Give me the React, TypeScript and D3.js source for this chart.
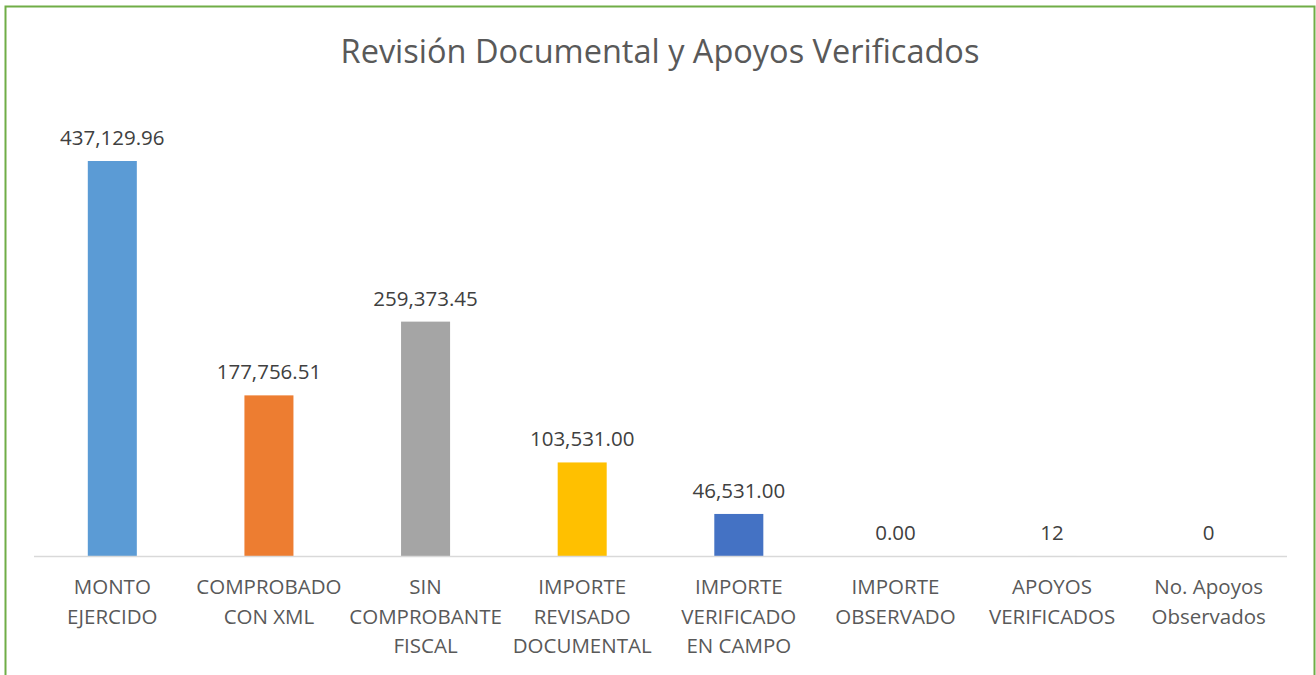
import React, { useEffect, useRef } from 'react';
import * as d3 from 'd3';

const categories = [
  ['MONTO', 'EJERCIDO'],
  ['COMPROBADO', 'CON XML'],
  ['SIN', 'COMPROBANTE', 'FISCAL'],
  ['IMPORTE', 'REVISADO', 'DOCUMENTAL'],
  ['IMPORTE', 'VERIFICADO', 'EN CAMPO'],
  ['IMPORTE', 'OBSERVADO'],
  ['APOYOS', 'VERIFICADOS'],
  ['No. Apoyos', 'Observados'],
];
const values = [437129.96, 177756.51, 259373.45, 103531.0, 46531.0, 0, 12, 0];
const valueLabels = ['437,129.96', '177,756.51', '259,373.45', '103,531.00', '46,531.00', '0.00', '12', '0'];
const barColors = ['#5B9BD5', '#ED7D31', '#A5A5A5', '#FFC000', '#4472C4', '#70AD47', '#255E91', '#9E480E'];

const W = 1316;
const H = 675;
const FONT = "'Open Sans', sans-serif";

export default function App() {
  const ref = useRef<SVGSVGElement>(null);

  useEffect(() => {
    const svg = d3.select(ref.current);
    svg.selectAll('*').remove();

    // chart border (bottom is cut off in the picture)
    svg.append('path')
      .attr('d', `M5.5,${H} V6.5 H1314.5 V${H}`)
      .attr('fill', 'none')
      .attr('stroke', '#70AD47')
      .attr('stroke-width', 2);

    svg.append('text')
      .attr('x', 660)
      .attr('y', 63)
      .attr('text-anchor', 'middle')
      .attr('font-family', FONT)
      .attr('font-size', 32.5)
      .attr('fill', '#595959')
      .text('Revisión Documental y Apoyos Verificados');

    const x = d3.scaleBand<number>()
      .domain(d3.range(categories.length))
      .range([34, 1287])
      .paddingInner(0.687)
      .paddingOuter(0.3435);

    const y = d3.scaleLinear()
      .domain([0, 437129.96])
      .range([556, 161]);

    svg.append('g')
      .selectAll('rect')
      .data(values)
      .join('rect')
        .attr('x', (d, i) => x(i)!)
        .attr('width', x.bandwidth())
        .attr('y', d => y(d))
        .attr('height', d => y(0) - y(d))
        .attr('fill', (d, i) => barColors[i]);

    svg.append('line')
      .attr('x1', 34).attr('x2', 1287)
      .attr('y1', 556.5).attr('y2', 556.5)
      .attr('stroke', '#D9D9D9')
      .attr('stroke-width', 1.5);

    svg.append('g')
      .attr('font-family', FONT)
      .attr('font-size', 20.5)
      .attr('fill', '#404040')
      .attr('text-anchor', 'middle')
    .selectAll('text')
    .data(values)
    .join('text')
      .attr('x', (d, i) => x(i)! + x.bandwidth() / 2)
      .attr('y', d => y(d) - 16)
      .text((d, i) => valueLabels[i]);

    const catG = svg.append('g')
      .attr('font-family', FONT)
      .attr('font-size', 20.5)
      .attr('fill', '#595959')
      .attr('text-anchor', 'middle');

    categories.forEach((lines, i) => {
      const t = catG.append('text')
        .attr('x', x(i)! + x.bandwidth() / 2)
        .attr('y', 594);
      lines.forEach((line, j) => {
        t.append('tspan')
          .attr('x', x(i)! + x.bandwidth() / 2)
          .attr('y', 594 + j * 29.5)
          .text(line);
      });
    });
  }, []);

  return (
    <svg ref={ref} width={W} height={H}
      style={{ position: 'absolute', left: 0, top: 0, background: '#fff' }} />
  );
}
